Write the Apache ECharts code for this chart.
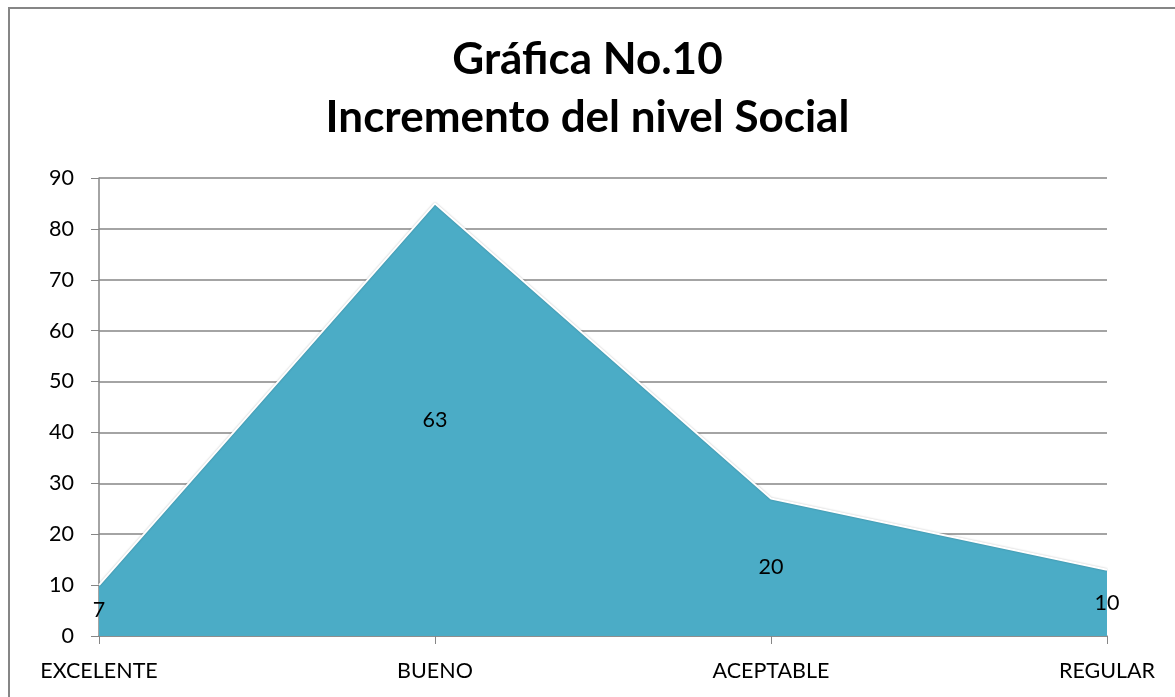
<!DOCTYPE html>
<html>
<head>
<meta charset="utf-8">
<script src="https://cdn.jsdelivr.net/npm/echarts@6/dist/echarts.min.js"></script>
<style>
  html, body { margin: 0; padding: 0; background: #fff; }
  #chart-container { width: 1175px; height: 697px; }
</style>
</head>
<body>
<div id="chart-container"></div>
<script>
var categories = ['EXCELENTE', 'BUENO', 'ACEPTABLE', 'REGULAR'];
var values = [10, 85, 27, 13];
var labels = ['7', '63', '20', '10'];
var yTicks = [0, 10, 20, 30, 40, 50, 60, 70, 80, 90];

var dom = document.getElementById('chart-container');
var myChart = echarts.init(dom, null, { renderer: 'canvas' });

var font = 'Lato, "Open Sans", sans-serif';

var option = {
  backgroundColor: '#ffffff',
  animation: false,
  title: {
    text: 'Gráfica No.10\nIncremento del nivel Social',
    left: 'center',
    top: 26,
    textStyle: {
      fontFamily: font,
      fontWeight: 'bold',
      fontSize: 44,
      lineHeight: 58,
      color: '#000'
    }
  },
  graphic: [{
    type: 'polyline',
    shape: { points: [[9, 710], [9, 8], [1190, 8]] },
    style: { stroke: '#868686', lineWidth: 2, fill: null },
    silent: true
  }],
  grid: { left: 99, right: 68, top: 178, bottom: 61 },
  xAxis: {
    type: 'category',
    data: categories,
    boundaryGap: false,
    axisLine: { lineStyle: { color: '#868686', width: 1.5 } },
    axisTick: { show: true, length: 8, lineStyle: { color: '#868686' } },
    axisLabel: {
      fontFamily: font,
      fontSize: 21.5,
      color: '#000',
      margin: 24,
      interval: 0
    }
  },
  yAxis: {
    type: 'value',
    min: yTicks[0],
    max: yTicks[yTicks.length - 1],
    interval: 10,
    axisLine: { show: true, lineStyle: { color: '#868686', width: 1.5 } },
    axisTick: { show: true, length: 8, lineStyle: { color: '#868686' } },
    axisLabel: {
      fontFamily: font,
      fontSize: 21.5,
      color: '#000',
      margin: 25
    },
    splitLine: { lineStyle: { color: '#868686', width: 1.5 } }
  },
  series: [{
    type: 'line',
    data: values,
    symbol: 'none',
    lineStyle: { color: '#ffffff', width: 2, shadowColor: 'rgba(0,0,0,0.25)', shadowBlur: 2 },
    areaStyle: { color: '#4BACC6', opacity: 1 },
    z: 3
  }, {
    type: 'custom',
    data: values.map(function (v, i) { return [i, v]; }),
    z: 5,
    renderItem: function (params, api) {
      var i = api.value(0);
      var pt = api.coord([i, api.value(1) / 2]);
      return {
        type: 'text',
        x: pt[0],
        y: pt[1],
        style: {
          text: labels[i],
          fill: '#000',
          fontFamily: font,
          fontSize: 21.5,
          align: 'center',
          verticalAlign: 'middle'
        }
      };
    }
  }]
};

myChart.setOption(option);
window.addEventListener('resize', myChart.resize);
</script>
</body>
</html>
